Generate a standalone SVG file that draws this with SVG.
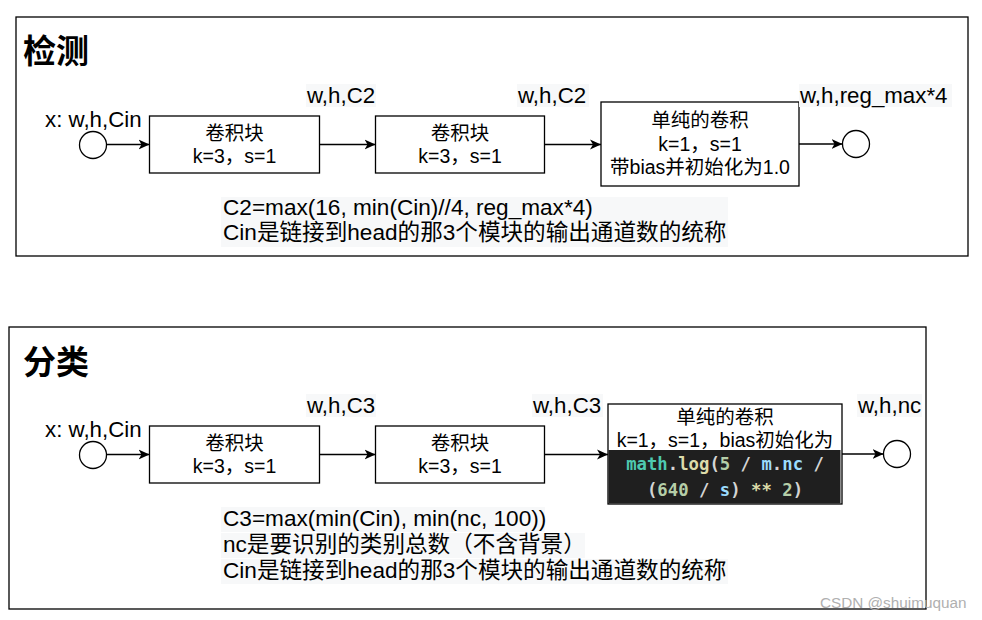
<svg xmlns="http://www.w3.org/2000/svg" width="982" height="620" viewBox="0 0 982 620">
<style>
text{font-family:"Liberation Sans","Noto Sans CJK SC",sans-serif;fill:#000}
.panel{fill:#fff;stroke:#000;stroke-width:1.3}
.box{fill:#fff;stroke:#000;stroke-width:1.3}
.term{fill:#fff;stroke:#000;stroke-width:1.3}
.title{font-size:33px;font-weight:bold}
.lbl{font-size:22.3px}
.bt{font-size:19.5px;text-anchor:middle}
.note{font-size:22.6px}
.hl{fill:#f7f8f9}
.edge{stroke:#000;stroke-width:1.3;fill:none;marker-end:url(#ah)}
.code{font-family:"DejaVu Sans Mono","Liberation Mono",monospace;font-size:17.3px;font-weight:bold;text-anchor:middle}
</style>
<defs>
<marker id="ah" markerWidth="12" markerHeight="12" refX="11" refY="6" orient="auto" markerUnits="userSpaceOnUse">
<path d="M0,1 L11,6 L0,11 L3,6 Z" fill="#000"/>
</marker>
</defs>
<rect width="982" height="620" fill="#fff"/>

<!-- top panel -->
<g id="panel-detect">
<rect class="panel" x="16" y="17" width="952" height="239"/>
<text class="title" x="23" y="63">检测</text>
</g>
<g id="detect-in">
<circle class="term" cx="93" cy="145" r="13.5"/>
<text class="lbl" x="45" y="127">x: w,h,Cin</text>
</g>
<g id="detect-conv1">
<rect class="box" x="149.5" y="116" width="170" height="57"/>
<text class="bt" x="234.5" y="140">卷积块</text>
<text class="bt" x="234.5" y="163">k=3，s=1</text>
</g>
<g id="detect-conv2">
<rect class="box" x="375.5" y="116" width="169" height="57"/>
<text class="bt" x="460" y="140">卷积块</text>
<text class="bt" x="460" y="163">k=3，s=1</text>
</g>
<g id="detect-conv3">
<rect class="box" x="601" y="102" width="198" height="84"/>
<text class="bt" x="700" y="127">单纯的卷积</text>
<text class="bt" x="700" y="151">k=1，s=1</text>
<text class="bt" x="700" y="174">带bias并初始化为1.0</text>
</g>
<g id="detect-out">
<circle class="term" cx="856" cy="144" r="13.5"/>
</g>
<g id="detect-labels">
<rect class="hl" x="306" y="84" width="70" height="23"/>
<text class="lbl" x="307" y="103">w,h,C2</text>
<rect class="hl" x="517" y="84" width="72" height="23"/>
<text class="lbl" x="518" y="103">w,h,C2</text>
<rect class="hl" x="799" y="84" width="153" height="23"/>
<text class="lbl" x="800" y="103">w,h,reg_max*4</text>
</g>
<g id="detect-notes">
<rect class="hl" x="221" y="197" width="507" height="50"/>
<text class="note" x="223" y="215">C2=max(16, min(Cin)//4, reg_max*4)</text>
<text class="note" x="223" y="240">Cin是链接到head的那3个模块的输出通道数的统称</text>
</g>

<!-- bottom panel -->
<g id="panel-cls">
<rect class="panel" x="9" y="327" width="917" height="282"/>
<text class="title" x="23" y="374">分类</text>
</g>
<g id="cls-in">
<circle class="term" cx="93" cy="455" r="13.5"/>
<text class="lbl" x="45" y="437">x: w,h,Cin</text>
</g>
<g id="cls-conv1">
<rect class="box" x="149.5" y="426" width="170" height="57"/>
<text class="bt" x="234.5" y="450">卷积块</text>
<text class="bt" x="234.5" y="473">k=3，s=1</text>
</g>
<g id="cls-conv2">
<rect class="box" x="375.5" y="426" width="169" height="57"/>
<text class="bt" x="460" y="450">卷积块</text>
<text class="bt" x="460" y="473">k=3，s=1</text>
</g>
<g id="cls-conv3">
<rect class="box" x="608" y="404" width="234" height="100"/>
<text class="bt" x="725" y="424">单纯的卷积</text>
<text class="bt" x="725" y="447">k=1，s=1，bias初始化为</text>
<rect x="608.5" y="450" width="232" height="53.5" fill="#1f1f1f"/>
<text class="code" x="725" y="470" xml:space="preserve"><tspan fill="#4ec9b0">math</tspan><tspan fill="#d4d4d4">.</tspan><tspan fill="#dcdcaa">log</tspan><tspan fill="#d4d4d4">(</tspan><tspan fill="#b5cea8">5</tspan><tspan fill="#d4d4d4"> / </tspan><tspan fill="#9cdcfe">m</tspan><tspan fill="#d4d4d4">.</tspan><tspan fill="#9cdcfe">nc</tspan><tspan fill="#d4d4d4"> /</tspan></text>
<text class="code" x="725" y="496" xml:space="preserve"><tspan fill="#d4d4d4">(</tspan><tspan fill="#b5cea8">640</tspan><tspan fill="#d4d4d4"> / </tspan><tspan fill="#9cdcfe">s</tspan><tspan fill="#d4d4d4">) </tspan><tspan fill="#dcdcaa">**</tspan><tspan fill="#d4d4d4"> </tspan><tspan fill="#b5cea8">2</tspan><tspan fill="#d4d4d4">)</tspan></text>
</g>
<g id="cls-out">
<circle class="term" cx="897" cy="454" r="13.5"/>
</g>
<g id="cls-labels">
<rect class="hl" x="306" y="394" width="70" height="23"/>
<text class="lbl" x="307" y="413">w,h,C3</text>
<rect class="hl" x="532" y="394" width="71" height="23"/>
<text class="lbl" x="533" y="413">w,h,C3</text>
<rect class="hl" x="857" y="394" width="65" height="23"/>
<text class="lbl" x="858" y="413">w,h,nc</text>
</g>
<g id="cls-notes">
<rect class="hl" x="221" y="507" width="324" height="25"/>
<rect class="hl" x="221" y="533" width="364" height="25"/>
<rect class="hl" x="221" y="559" width="507" height="25"/>
<text class="note" x="223" y="526">C3=max(min(Cin), min(nc, 100))</text>
<text class="note" x="223" y="552">nc是要识别的类别总数（不含背景）</text>
<text class="note" x="223" y="578">Cin是链接到head的那3个模块的输出通道数的统称</text>
</g>

<g id="connectors">
<line class="edge" x1="106.5" y1="144.5" x2="149.5" y2="144.5"/>
<line class="edge" x1="319.5" y1="144.5" x2="375.5" y2="144.5"/>
<line class="edge" x1="544.5" y1="144.5" x2="601" y2="144.5"/>
<line class="edge" x1="799" y1="144" x2="842.5" y2="144"/>
<line class="edge" x1="106.5" y1="454.5" x2="149.5" y2="454.5"/>
<line class="edge" x1="319.5" y1="454.5" x2="375.5" y2="454.5"/>
<line class="edge" x1="544.5" y1="454.5" x2="608" y2="454.5"/>
<line class="edge" x1="842" y1="454" x2="883.5" y2="454"/>
</g>

<text x="820" y="608" style="font-size:15.3px;fill:#b0b0b0">CSDN @shuimuquan</text>
</svg>
